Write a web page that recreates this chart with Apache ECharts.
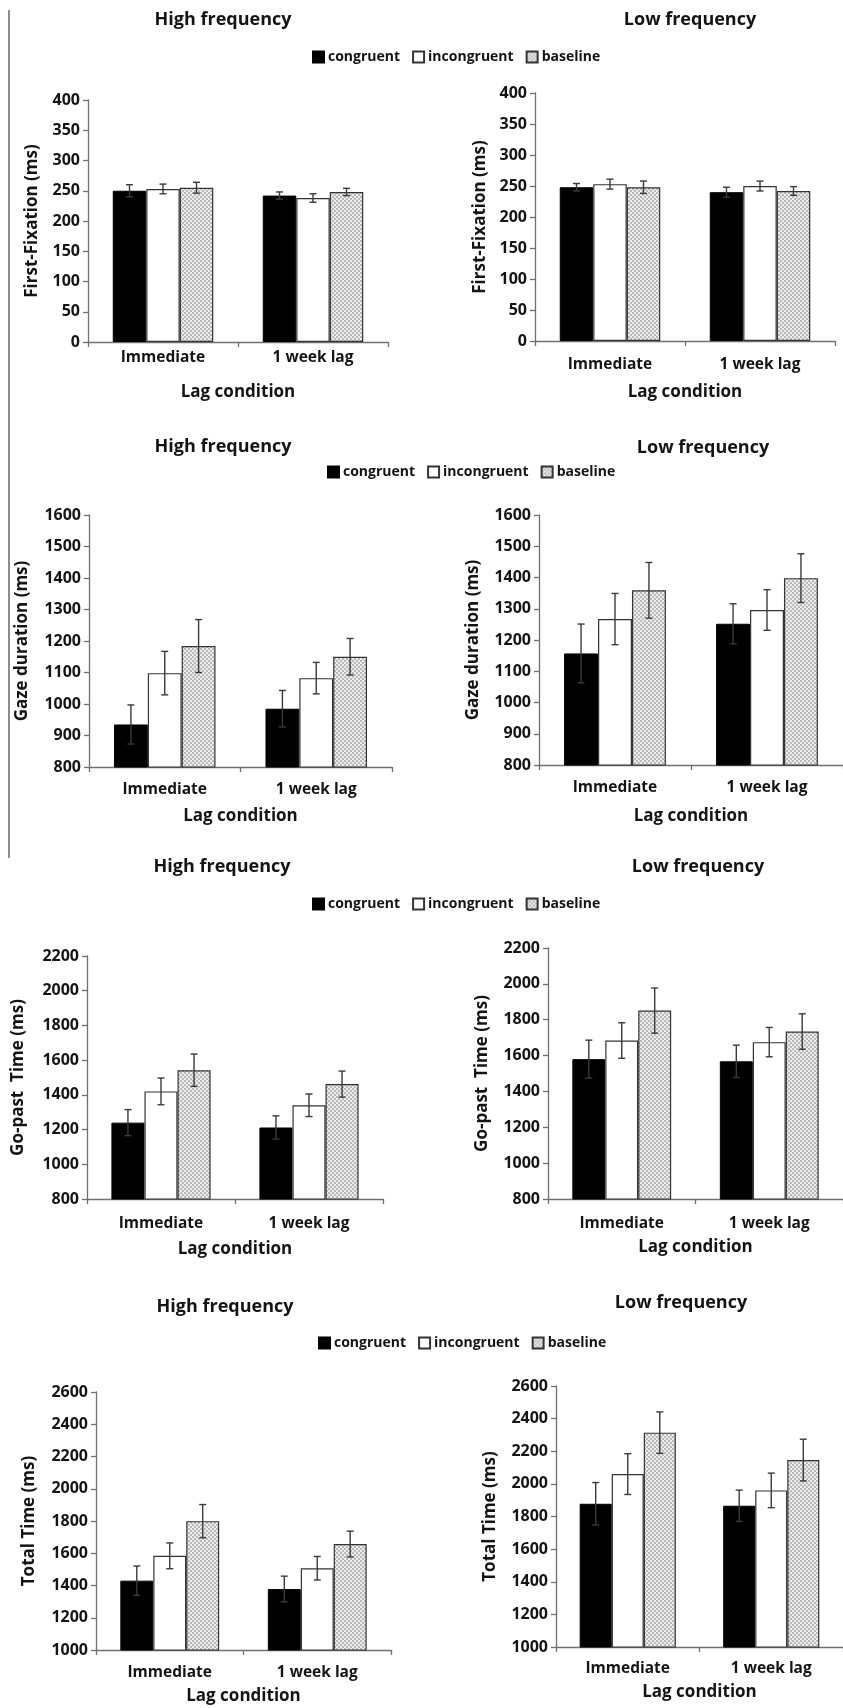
<!DOCTYPE html>
<html><head><meta charset="utf-8">
<script src="https://cdn.jsdelivr.net/npm/echarts@6/dist/echarts.min.js"></script>
<style>html,body{margin:0;padding:0;background:#fff}#c{width:843px;height:1708px}</style>
</head><body><div id="c"></div>
<script>
// ---------- data ----------
const categories = ['Immediate', '1 week lag'];
const conditions = ['congruent', 'incongruent', 'baseline'];
const xAxisTitle = 'Lag condition';
const panelTitles = ['High frequency', 'Low frequency'];
const measureNames = ['First-Fixation (ms)', 'Gaze duration (ms)', 'Go-past  Time (ms)', 'Total Time (ms)'];
// y axis ticks: [min, max, step]
const yTicksFF = [0, 400, 50];
const yTicksGD = [800, 1600, 100];
const yTicksGP = [800, 2200, 200];
const yTicksTT = [1000, 2600, 200];

// rows: congruent, incongruent, baseline ; columns: Immediate, 1 week lag
const ffHigh = [[250, 242], [253, 238], [255, 248]];
const ffHighErr = [[10, 6], [8, 7], [9, 6]];
const ffLow = [[248, 240], [253, 250], [248, 242]];
const ffLowErr = [[6, 8], [8, 8], [10, 7]];
const gdHigh = [[935, 985], [1098, 1082], [1184, 1150]];
const gdHighErr = [[62, 58], [69, 50], [84, 58]];
const gdLow = [[1157, 1252], [1267, 1296], [1359, 1398]];
const gdLowErr = [[94, 64], [82, 65], [89, 78]];
const gpHigh = [[1240, 1212], [1420, 1340], [1542, 1462]];
const gpHighErr = [[75, 67], [77, 65], [93, 75]];
const gpLow = [[1580, 1568], [1684, 1675], [1851, 1734]];
const gpLowErr = [[106, 90], [99, 82], [126, 99]];
const ttHigh = [[1430, 1378], [1584, 1507], [1799, 1657]];
const ttHighErr = [[91, 80], [80, 73], [103, 80]];
const ttLow = [[1878, 1866], [2060, 1960], [2314, 2146]];
const ttLowErr = [[130, 96], [125, 106], [127, 128]];

// ---------- layout / style ----------
const FONT = '"Open Sans"';
const panels = [
  {mean: ffHigh, err: ffHighErr, title: panelTitles[0], measure: measureNames[0], ticks: yTicksFF, grid: {left: 88, top: 100, width: 300, height: 242}, tpos: [223, 20], yGap: 47, xGap: 42, lm: 8},
  {mean: ffLow, err: ffLowErr, title: panelTitles[1], measure: measureNames[0], ticks: yTicksFF, grid: {left: 535, top: 93, width: 300, height: 248}, tpos: [690, 20], yGap: 46, xGap: 43, lm: 16},
  {mean: gdHigh, err: gdHighErr, title: panelTitles[0], measure: measureNames[1], ticks: yTicksGD, grid: {left: 89, top: 515, width: 303, height: 252}, tpos: [223, 447], yGap: 58, xGap: 41, lm: 14.5},
  {mean: gdLow, err: gdLowErr, title: panelTitles[1], measure: measureNames[1], ticks: yTicksGD, grid: {left: 539, top: 515, width: 310, height: 250}, tpos: [703, 448], yGap: 57, xGap: 43, lm: 15},
  {mean: gpHigh, err: gpHighErr, title: panelTitles[0], measure: measureNames[2], ticks: yTicksGP, grid: {left: 87, top: 956, width: 296, height: 243}, tpos: [222, 867], yGap: 60, xGap: 42, lm: 16.5},
  {mean: gpLow, err: gpLowErr, title: panelTitles[1], measure: measureNames[2], ticks: yTicksGP, grid: {left: 548, top: 948, width: 308, height: 251}, tpos: [698, 867], yGap: 57, xGap: 40, lm: 17},
  {mean: ttHigh, err: ttHighErr, title: panelTitles[0], measure: measureNames[3], ticks: yTicksTT, grid: {left: 96, top: 1392, width: 295, height: 258}, tpos: [225, 1307], yGap: 58, xGap: 38, lm: 15},
  {mean: ttLow, err: ttLowErr, title: panelTitles[1], measure: measureNames[3], ticks: yTicksTT, grid: {left: 556, top: 1386, width: 297, height: 261}, tpos: [681, 1303], yGap: 57, xGap: 37, lm: 14}
];
const legends = [{left: 307, top: 45}, {left: 322, top: 460}, {left: 307, top: 892}, {left: 313, top: 1331}];

function makePattern() {
  const c = document.createElement('canvas');
  c.width = 4; c.height = 4;
  const g = c.getContext('2d');
  g.fillStyle = '#ededed'; g.fillRect(0, 0, 4, 4);
  g.fillStyle = '#b9b9b9';
  g.fillRect(0, 0, 2, 2); g.fillRect(2, 2, 2, 2);
  return {image: c, repeat: 'repeat'};
}
const pattern = makePattern();
const barStyles = [
  {color: '#000', borderColor: '#000', borderWidth: 1},
  {color: '#fff', borderColor: '#333', borderWidth: 1.2},
  {color: pattern, borderColor: '#333', borderWidth: 1.2}
];
const GAP = 0.33;

const grids = [], xAxes = [], yAxes = [], series = [], graphics = [];
const axisColor = '#6f6f6f';
const txt = '#141414';
panels.forEach((p, pi) => {
  grids.push(Object.assign({containLabel: false}, p.grid));
  xAxes.push({
    type: 'category', gridIndex: pi, data: categories,
    axisLine: {lineStyle: {color: axisColor, width: 1.3}},
    axisTick: {show: true, alignWithLabel: false, length: 5, lineStyle: {color: axisColor, width: 1.3}},
    axisLabel: {color: txt, fontFamily: FONT, fontWeight: 'bold', fontSize: 15.5, margin: p.lm},
    name: xAxisTitle, nameLocation: 'middle', nameGap: p.xGap,
    nameTextStyle: {color: txt, fontFamily: FONT, fontWeight: 'bold', fontSize: 17}
  });
  yAxes.push({
    type: 'value', gridIndex: pi, min: p.ticks[0], max: p.ticks[1], interval: p.ticks[2],
    splitLine: {show: false},
    axisLine: {show: true, lineStyle: {color: axisColor, width: 1.3}},
    axisTick: {show: true, length: 5, lineStyle: {color: axisColor, width: 1.3}},
    axisLabel: {color: txt, fontFamily: FONT, fontWeight: 'bold', fontSize: 16, margin: 8, formatter: v => String(v)},
    name: p.measure, nameLocation: 'middle', nameGap: p.yGap, nameRotate: 90,
    nameTextStyle: {color: txt, fontFamily: FONT, fontWeight: 'bold', fontSize: 17}
  });
  conditions.forEach((cn, k) => {
    series.push({
      type: 'bar', name: cn, xAxisIndex: pi, yAxisIndex: pi,
      data: p.mean[k], barGap: '0%', barCategoryGap: (GAP * 100) + '%',
      itemStyle: barStyles[k], emphasis: {disabled: true}, animation: false
    });
  });
  conditions.forEach((cn, k) => {
    series.push({
      type: 'custom', name: cn + ' error', xAxisIndex: pi, yAxisIndex: pi, z: 10, silent: true, animation: false,
      dimensions: ['cat', 'mean', 'err'], encode: {x: 0, y: 1},
      data: p.mean[k].map((m, i) => [i, m, p.err[k][i]]),
      renderItem: (params, api) => {
        const ci = api.value(0), v = api.value(1), e = api.value(2);
        const band = api.size([1, 0])[0];
        const bw = band * (1 - GAP) / 3;
        const c = api.coord([ci, v]);
        const x = c[0] + (k - 1) * bw;
        const top = api.coord([ci, v + e])[1], bot = api.coord([ci, v - e])[1];
        const cap = 3.5;
        const style = {stroke: '#3a3a3a', lineWidth: 1.4};
        return {type: 'group', children: [
          {type: 'line', shape: {x1: x, y1: top, x2: x, y2: bot}, style},
          {type: 'line', shape: {x1: x - cap, y1: top, x2: x + cap, y2: top}, style},
          {type: 'line', shape: {x1: x - cap, y1: bot, x2: x + cap, y2: bot}, style}
        ]};
      }
    });
  });
  graphics.push({
    type: 'text', x: p.tpos[0], y: p.tpos[1],
    style: {text: p.title, fill: txt, font: 'bold 18px ' + FONT, align: 'center', verticalAlign: 'middle', textAlign: 'center', textVerticalAlign: 'middle'}
  });
});
graphics.push({type: 'line', shape: {x1: 9, y1: 10, x2: 9, y2: 858}, style: {stroke: '#666', lineWidth: 1.5}});

const legendOpts = legends.map(l => ({
  left: l.left, top: l.top, data: conditions, icon: 'rect', itemWidth: 11, itemHeight: 11, itemGap: 12,
  selectedMode: false,
  textStyle: {color: txt, fontFamily: FONT, fontWeight: 'bold', fontSize: 14, padding: [0, 0, 0, -1]}
}));

const chart = echarts.init(document.getElementById('c'), null, {renderer: 'canvas'});
chart.setOption({
  backgroundColor: '#fff', animation: false,
  grid: grids, xAxis: xAxes, yAxis: yAxes, series, legend: legendOpts, graphic: graphics
});
</script></body></html>
